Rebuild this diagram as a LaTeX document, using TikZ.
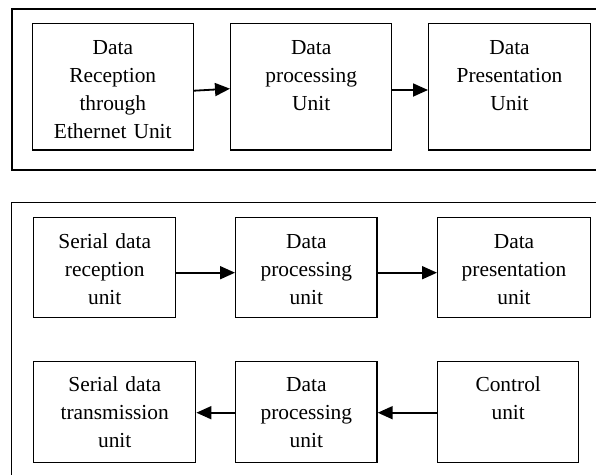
\documentclass[tikz,border=0pt]{standalone}
\usepackage{fontspec}
\setmainfont{Liberation Serif}
\usetikzlibrary{arrows.meta,calc}
\begin{document}
\begin{tikzpicture}[x=1pt,y=-1pt,
  frame/.style={draw, line width=1.6pt, inner sep=0},
  unitbox/.style={draw, line width=1.4pt, inner sep=0},
  lbl/.style={font=\fontsize{21.4}{28}\selectfont, text width=170pt, align=center, inner sep=0, anchor=base},
  arr/.style={line width=1.8pt, -{Triangle[length=15pt,width=13pt]}}]
\useasboundingbox (0,0) rectangle (596,474);
\clip (0,0) rectangle (596,474);
% frames
\node[frame, minimum width=598.3pt, minimum height=161pt] (f1) at (310.85,89.5) {};
\node[frame, line width=1.3pt, minimum width=598.3pt, minimum height=287.3pt] (f2) at (310.85,346.35) {};
% top row
\node[unitbox, minimum width=161pt, minimum height=126.3pt] (t1) at (112.8,86.85) {};
\node[unitbox, minimum width=161pt, minimum height=126.3pt] (t2) at (311.2,86.85) {};
\node[unitbox, minimum width=161.6pt, minimum height=126.3pt] (t3) at (509.5,86.85) {};
\node[lbl] (lt1) at (112.8,54.3) {Data\\Reception\\through\\Ethernet Unit};
\node[lbl] (lt2) at (311.2,54.3) {Data\\processing\\Unit};
\node[lbl] (lt3) at (509.5,54.3) {Data\\Presentation\\Unit};
% bottom first row
\node[unitbox, minimum width=142pt, minimum height=100.4pt] (a1) at (104.7,267.5) {};
\node[unitbox, minimum width=141.3pt, minimum height=100.4pt] (a2) at (306.35,267.5) {};
\node[unitbox, minimum width=152.6pt, minimum height=100.4pt] (a3) at (514,267.5) {};
\node[lbl] (la1) at (104.7,248.3) {Serial data\\reception\\unit};
\node[lbl] (la2) at (306.35,248.3) {Data\\processing\\unit};
\node[lbl] (la3) at (514,248.3) {Data\\presentation\\unit};
% bottom second row
\node[unitbox, minimum width=162pt, minimum height=101pt] (c1) at (114.7,412.2) {};
\node[unitbox, minimum width=141.3pt, minimum height=101pt] (c2) at (306.35,412.2) {};
\node[unitbox, minimum width=141pt, minimum height=101pt] (c3) at (508.2,412.2) {};
\node[lbl] (lc1) at (114.7,391.7) {Serial data\\transmission\\unit};
\node[lbl] (lc2) at (306.35,391.7) {Data\\processing\\unit};
\node[lbl] (lc3) at (508.2,391.7) {Control\\unit};
% arrows
\draw[arr] ([yshift=-3.85pt]t1.east) -- ([yshift=-1.85pt]t2.west);
\draw[arr] ([yshift=-3.15pt]t2.east) -- ([yshift=-3.15pt]t3.west);
\draw[arr] ([yshift=-5.2pt]a1.east) -- ([yshift=-5.2pt]a2.west);
\draw[arr] ([yshift=-5.2pt]a2.east) -- ([yshift=-5.2pt]a3.west);
\draw[arr] ([yshift=-0.5pt]c3.west) -- ([yshift=-0.5pt]c2.east);
\draw[arr] ([yshift=-0.5pt]c2.west) -- ([yshift=-0.5pt]c1.east);
\end{tikzpicture}
\end{document}
